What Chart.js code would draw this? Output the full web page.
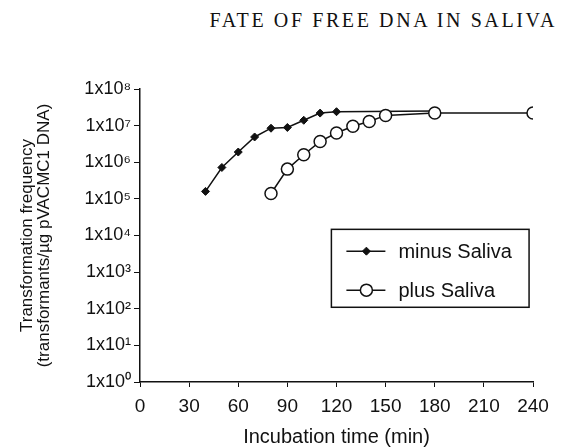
<!DOCTYPE html>
<html>
<head>
<meta charset="utf-8">
<script src="https://cdn.jsdelivr.net/npm/chart.js@4.4.1/dist/chart.umd.min.js"></script>
<style>
    body { margin: 0; background: #fff; }
    #wrap { position: relative; width: 561px; height: 447px; }
    #page-title {
        position: absolute; top: 10px; right: 4px;
        font-family: "Liberation Serif", serif; font-size: 20px; line-height: 20px;
        letter-spacing: 2.6px; color: #111; white-space: nowrap;
    }
    canvas { position: absolute; left: 0; top: 0; }
</style>
</head>
<body>
<div id="wrap">
    <div id="page-title">FATE OF FREE DNA IN SALIVA</div>
    <canvas id="fate-chart" width="561" height="447"></canvas>
</div>
<script>
// incubation time (min) and transformation frequency
const minusTimes = [40, 50, 60, 70, 80, 90, 100, 110, 120, 180];
const minusFreq = [1.6e5, 7.2e5, 1.9e6, 4.9e6, 8.5e6, 8.9e6, 1.4e7, 2.2e7, 2.4e7, 2.5e7];
const plusTimes = [80, 90, 100, 110, 120, 130, 140, 150, 180, 240];
const plusFreq = [1.4e5, 6.5e5, 1.6e6, 3.7e6, 6.3e6, 9.6e6, 1.3e7, 1.9e7, 2.2e7, 2.2e7];
const seriesLabels = ['minus Saliva', 'plus Saliva'];
const yTickValues = [1, 1e1, 1e2, 1e3, 1e4, 1e5, 1e6, 1e7, 1e8];
const xTickStep = 30;

const sansFont = '"Liberation Sans", Arial, sans-serif';
const supDigits = ['⁰', '¹', '²', '³', '⁴', '⁵', '⁶', '⁷', '⁸', '⁹'];

function toPoints(xs, ys) {
    return xs.map((x, i) => ({ x, y: ys[i] }));
}

// legend drawn as a framed box inside the plot, like the original figure
const boxLegend = {
    id: 'boxLegend',
    afterDraw(chart) {
        const { ctx, chartArea: a } = chart;
        const w = a.right - a.left, h = a.bottom - a.top;
        const left = a.left + w * 0.487, right = a.left + w * 0.99;
        const top = a.top + h * 0.479, bottom = a.top + h * 0.745;
        const rows = [top + (bottom - top) * 0.28, top + (bottom - top) * 0.78];

        ctx.save();
        ctx.strokeStyle = '#111';
        ctx.lineWidth = 1.5;
        ctx.strokeRect(left, top, right - left, bottom - top);

        chart.data.datasets.forEach((ds, i) => {
            const y = rows[i];
            ctx.strokeStyle = ds.borderColor;
            ctx.lineWidth = ds.borderWidth;
            ctx.beginPath();
            ctx.moveTo(left + 15, y);
            ctx.lineTo(left + 54, y);
            ctx.stroke();

            ctx.fillStyle = ds.pointBackgroundColor;
            ctx.strokeStyle = ds.pointBorderColor;
            ctx.lineWidth = ds.pointBorderWidth;
            Chart.helpers.drawPoint(ctx, {
                pointStyle: ds.pointStyle,
                radius: ds.pointRadius,
                rotation: 0,
                borderWidth: ds.pointBorderWidth
            }, left + 35, y);

            ctx.fillStyle = '#111';
            ctx.font = '20px ' + sansFont;
            ctx.textBaseline = 'middle';
            ctx.textAlign = 'left';
            ctx.fillText(ds.label, left + 67, y + 1);
        });
        ctx.restore();
    }
};

new Chart(document.getElementById('fate-chart'), {
    type: 'line',
    data: {
        datasets: [
            {
                label: seriesLabels[0],
                data: toPoints(minusTimes, minusFreq),
                order: 1,
                borderColor: '#111',
                borderWidth: 1.5,
                pointStyle: 'rectRot',
                pointRadius: 4,
                pointBackgroundColor: '#111',
                pointBorderColor: '#111',
                pointBorderWidth: 1,
                tension: 0
            },
            {
                label: seriesLabels[1],
                data: toPoints(plusTimes, plusFreq),
                order: 0,
                borderColor: '#111',
                borderWidth: 1.5,
                pointStyle: 'circle',
                pointRadius: 6,
                pointBackgroundColor: '#fff',
                pointBorderColor: '#111',
                pointBorderWidth: 1.5,
                tension: 0
            }
        ]
    },
    options: {
        responsive: false,
        animation: false,
        layout: { padding: { top: 89, right: 28, bottom: 0, left: 0 } },
        plugins: {
            legend: { display: false },
            tooltip: { enabled: false }
        },
        scales: {
            x: {
                type: 'linear',
                min: 0,
                max: 240,
                afterFit: (scale) => { scale.height = 65; },
                ticks: {
                    stepSize: xTickStep,
                    padding: 8,
                    color: '#111',
                    font: { family: sansFont, size: 19 }
                },
                grid: { drawOnChartArea: false, tickLength: 5, color: '#111' },
                border: { color: '#111', width: 1.5 },
                title: {
                    display: true,
                    text: 'Incubation time (min)',
                    color: '#111',
                    padding: { top: 0, bottom: 0 },
                    font: { family: sansFont, size: 20, lineHeight: 1 }
                }
            },
            y: {
                type: 'logarithmic',
                min: 1,
                max: 1e8,
                afterFit: (scale) => { scale.width = 140; },
                afterBuildTicks: (scale) => {
                    scale.ticks = yTickValues.map(v => ({ value: v }));
                },
                ticks: {
                    padding: 3,
                    color: '#111',
                    font: { family: sansFont, size: 18 },
                    callback: (v) => '1x10' + supDigits[Math.round(Math.log10(v))]
                },
                grid: { drawOnChartArea: false, tickLength: 6, color: '#111' },
                border: { color: '#111', width: 1.5 },
                title: {
                    display: true,
                    text: ['Transformation frequency', '(transformants/µg pVACMC1 DNA)'],
                    color: '#111',
                    padding: { top: 19, bottom: 0 },
                    font: { family: sansFont, size: 17, lineHeight: 1 }
                }
            }
        }
    },
    plugins: [boxLegend]
});
</script>
</body>
</html>
